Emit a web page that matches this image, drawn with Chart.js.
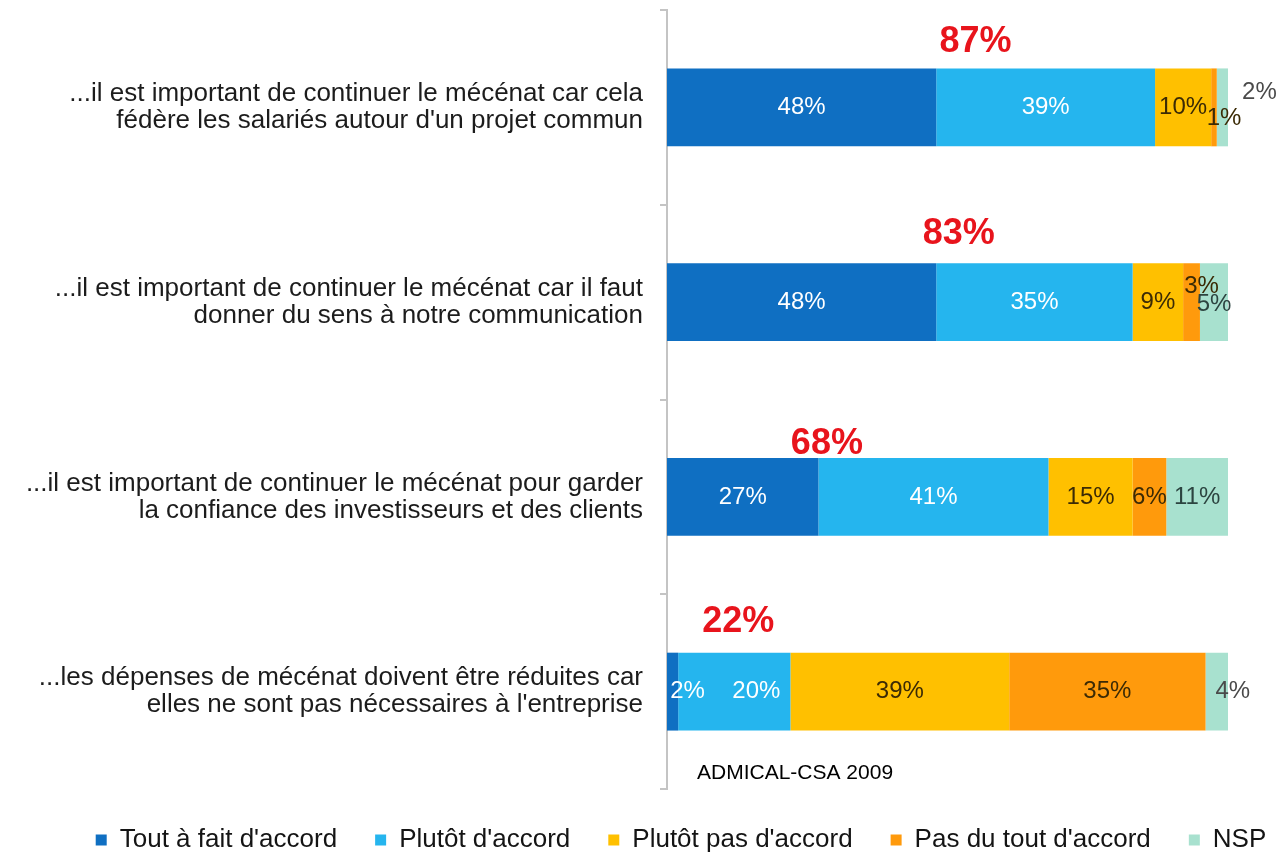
<!DOCTYPE html>
<html lang="fr">
<head>
<meta charset="utf-8">
<title>Mécénat – ADMICAL-CSA 2009</title>
<script src="https://cdn.jsdelivr.net/npm/chart.js@4.4.1/dist/chart.umd.min.js"></script>
<style>
  html, body { margin: 0; padding: 0; background: #fff; }
  #wrap { width: 1280px; height: 855px; }
</style>
</head>
<body>
<div id="wrap"><canvas id="mecenatChart" width="1280" height="855"></canvas></div>
<script>
// Données (en %)
const categories = [
  ['...il est important de continuer le mécénat car cela', 'fédère les salariés autour d\'un projet commun'],
  ['...il est important de continuer le mécénat car il faut', 'donner du sens à notre communication'],
  ['...il est important de continuer le mécénat pour garder', 'la confiance des investisseurs et des clients'],
  ['...les dépenses de mécénat doivent être réduites car', 'elles ne sont pas nécessaires à l\'entreprise']
];
const seriesNames = ['Tout à fait d\'accord', 'Plutôt d\'accord', 'Plutôt pas d\'accord', 'Pas du tout d\'accord', 'NSP'];
const toutAFait = [48, 48, 27, 2];
const plutot    = [39, 35, 41, 20];
const plutotPas = [10, 9, 15, 39];
const pasDuTout = [1, 3, 6, 35];
const nsp       = [2, 5, 11, 4];
const sourceNote = 'ADMICAL-CSA 2009';

const FONT = '"Liberation Sans", Arial, Helvetica, sans-serif';
const seriesColors = ['#0f6fc2', '#25b5ee', '#ffc000', '#ff9a0c', '#a8e1cf'];
const labelColors = ['#ffffff', '#ffffff', '#3b2a05', '#3b2a05', '#2c4440'];

// Décalages manuels des étiquettes trop serrées (px) : 'dataset,index'
const labelShift = {
  '3,0': [10, 11], '4,0': [37, -15],
  '3,1': [10, -16], '4,1': [0, 2],
  '0,3': [15, 0], '1,3': [22, 0], '4,3': [16, 0]
};
const outsideLabels = ['4,0', '4,3'];

// Total "d'accord" en rouge au-dessus des barres
const totalAnchor = [55, 52, 28.5, 12.7];
const totalLift = [26, 29, 14, 31];

const segmentLabels = {
  id: 'segmentLabels',
  afterDatasetsDraw(chart) {
    const ctx = chart.ctx;
    ctx.save();
    ctx.font = '24px ' + FONT;
    ctx.textAlign = 'center';
    ctx.textBaseline = 'middle';
    chart.data.datasets.forEach((ds, di) => {
      const meta = chart.getDatasetMeta(di);
      meta.data.forEach((bar, i) => {
        const key = di + ',' + i;
        const shift = labelShift[key] || [0, 0];
        const cx = (bar.x + bar.base) / 2 + shift[0];
        ctx.fillStyle = outsideLabels.includes(key) ? '#4a4a4a' : labelColors[di];
        ctx.fillText(ds.data[i] + '%', cx, bar.y + shift[1]);
      });
    });

    // totaux rouges
    const meta0 = chart.getDatasetMeta(0);
    ctx.font = 'bold 36px ' + FONT;
    ctx.fillStyle = '#e8141c';
    meta0.data.forEach((bar, i) => {
      const total = toutAFait[i] + plutot[i];
      const x = chart.scales.x.getPixelForValue(totalAnchor[i]);
      const y = bar.y - bar.height / 2 - totalLift[i];
      ctx.fillText(total + '%', x, y);
    });
    ctx.restore();
  },
  afterDraw(chart) {
    const ctx = chart.ctx;
    const area = chart.chartArea;
    ctx.save();
    ctx.font = '21px ' + FONT;
    ctx.fillStyle = '#000';
    ctx.textBaseline = 'middle';
    ctx.fillText(sourceNote, area.left + 30, area.bottom - 16);
    ctx.restore();
  },
  afterLayout(chart) {
    // recaler la légende comme sur l'original
    const lg = chart.legend;
    lg.left += 41; lg.right += 41;
  }
};

const seriesValues = [toutAFait, plutot, plutotPas, pasDuTout, nsp];

new Chart(document.getElementById('mecenatChart'), {
  type: 'bar',
  data: {
    labels: categories,
    datasets: seriesValues.map((vals, k) => ({
      label: seriesNames[k],
      data: vals,
      backgroundColor: seriesColors[k],
      borderWidth: 0,
      barPercentage: 0.4,
      categoryPercentage: 1
    }))
  },
  options: {
    indexAxis: 'y',
    responsive: false,
    animation: false,
    layout: { padding: { top: 10, right: 0, bottom: -8, left: 0 } },
    plugins: {
      legend: {
        position: 'bottom',
        labels: {
          boxWidth: 11,
          boxHeight: 11,
          padding: 38,
          color: '#141414',
          font: { family: FONT, size: 26 }
        }
      },
      tooltip: { enabled: false }
    },
    scales: {
      // 100 % arrive à x≈1228 ; la marge droite est laissée dans l'échelle
      x: { stacked: true, min: 0, max: 109.27, display: false },
      y: {
        stacked: true,
        afterFit(scale) {
          scale.width = 667;
          scale.paddingTop = 0;
          scale.paddingBottom = 0;
        },
        border: { display: true, color: '#c4c4c4', width: 2 },
        grid: { drawOnChartArea: false, drawTicks: true, tickLength: 7, color: '#c4c4c4', lineWidth: 2 },
        ticks: {
          color: '#1c1c1c',
          padding: 17,
          font: { family: FONT, size: 26, lineHeight: 1.04 }
        }
      }
    }
  },
  plugins: [segmentLabels]
});
</script>
</body>
</html>
